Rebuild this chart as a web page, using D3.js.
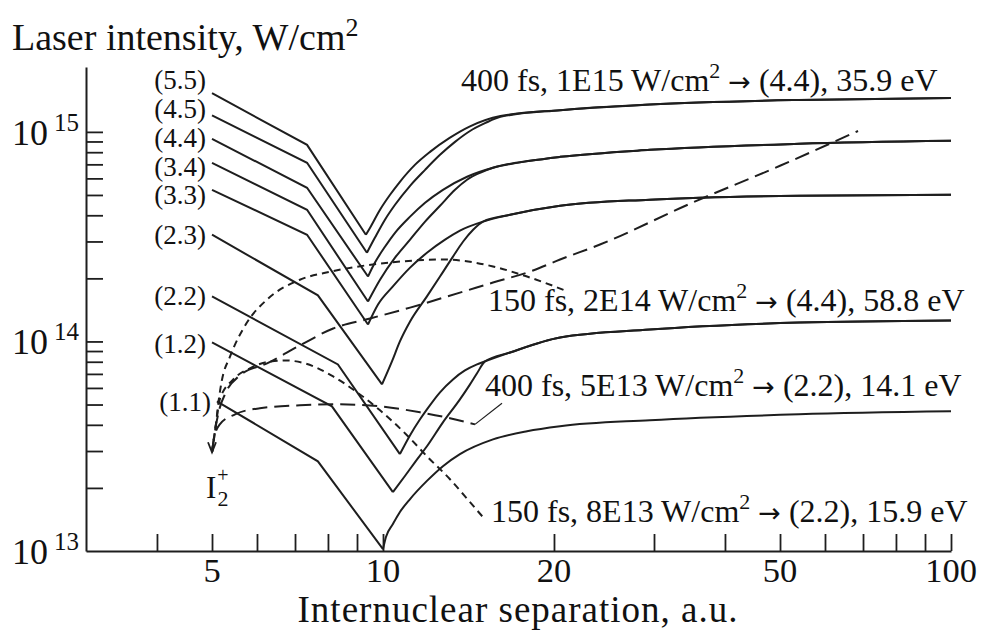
<!DOCTYPE html>
<html>
<head>
<meta charset="utf-8">
<script src="https://cdn.jsdelivr.net/npm/d3@7"></script>
<style>
  body { margin: 0; background: #fff; }
  svg text { font-family: "Liberation Serif", "Times New Roman", Times, Tinos, "DejaVu Serif", serif; fill: #111; }
  svg text .arrow { font-family: "DejaVu Sans", sans-serif; }
</style>
</head>
<body>
<svg id="chart" width="984" height="631"></svg>
<script>
// ---- data -------------------------------------------------------------
// final charge states (n.m), one solid curve each
const stateLabels = ["(5.5)", "(4.5)", "(4.4)", "(3.4)", "(3.3)", "(2.3)", "(2.2)", "(1.2)", "(1.1)"];

// falling part: start, kink, minimum  (separation in a.u., intensity in W/cm2)
const fallX = [
  [5.0, 7.35, 9.33], [5.0, 7.35, 9.37], [5.0, 7.35, 9.41], [5.0, 7.35, 9.41], [5.0, 7.35, 9.41],
  [5.0, 7.68, 9.96], [5.0, 8.33, 10.71], [5.0, 8.13, 10.41], [5.1, 7.68, 10.0]
];
const fallI = [
  [1.53e15, 8.67e14, 3.23e14], [1.2e15, 7.12e14, 2.65e14], [9.26e14, 5.41e14, 2.04e14],
  [7.12e14, 4.25e14, 1.55e14], [5.29e14, 3.23e14, 1.205e14], [3.23e14, 1.66e14, 6.24e13],
  [1.64e14, 7.77e13, 2.9e13], [9.9e13, 4.9e13, 1.91e13], [5.18e13, 2.68e13, 1.02e13]
];

// rising part, from the minimum out to 100 a.u.
const riseX = [
  [9.33, 9.49, 9.88, 10.29, 10.71, 11.38, 12.1, 13.1, 14.2, 16.1, 20.5, 29.5, 54, 100],
  [9.37, 9.68, 10.08, 10.5, 11.16, 11.86, 12.6, 13.39, 14.23, 15.12, 16.1, 20.5, 29.5, 54, 100],
  [9.41, 9.68, 10.08, 10.5, 11.16, 11.86, 12.75, 14.06, 15.62, 18.15, 20.5, 29.5, 54, 100],
  [9.41, 9.88, 10.5, 11.16, 11.86, 12.6, 13.39, 14.06, 14.82, 15.62, 18.15, 20.5, 29.5, 54, 100],
  [9.41, 9.8, 10.41, 11.16, 11.95, 12.86, 13.66, 15.0, 16.74, 20.5, 29.5, 54, 100],
  [9.96, 10.37, 10.71, 11.16, 11.95, 12.6, 13.28, 13.83, 14.41, 15.0, 16.74, 20.5, 29.5, 54, 100],
  [10.71, 11.16, 11.62, 11.95, 12.6, 13.28, 13.94, 14.64, 15.12, 16.74, 20.5, 29.5, 54, 100],
  [10.41, 10.93, 11.38, 11.95, 12.75, 13.66, 14.23, 14.64, 15.12, 16.74, 20.5, 29.5, 54, 100],
  [10.0, 10.12, 10.41, 10.71, 11.16, 11.95, 12.75, 13.66, 15.62, 17.93, 20.5, 29.5, 54, 100]
];
const riseI = [
  [3.23e14, 3.49e14, 4.25e14, 5.01e14, 5.78e14, 6.96e14, 8.03e14, 9.36e14, 1.06e15, 1.19e15, 1.27e15, 1.35e15, 1.42e15, 1.45e15],
  [2.65e14, 3.13e14, 3.81e14, 4.49e14, 5.53e14, 6.59e14, 7.77e14, 8.96e14, 1.01e15, 1.1e15, 1.18e15, 1.27e15, 1.35e15, 1.42e15, 1.45e15],
  [2.04e14, 2.38e14, 2.83e14, 3.3e14, 3.94e14, 4.59e14, 5.29e14, 6.11e14, 6.74e14, 7.28e14, 7.6e14, 8.21e14, 8.77e14, 9.06e14],
  [1.55e14, 1.97e14, 2.51e14, 3.06e14, 3.73e14, 4.44e14, 5.29e14, 5.91e14, 6.38e14, 6.74e14, 7.28e14, 7.6e14, 8.21e14, 8.77e14, 9.06e14],
  [1.205e14, 1.5e14, 1.83e14, 2.25e14, 2.65e14, 3.06e14, 3.38e14, 3.73e14, 4.02e14, 4.44e14, 4.75e14, 4.96e14, 5.01e14],
  [6.24e13, 8.03e13, 1.0e14, 1.245e14, 1.64e14, 2.04e14, 2.54e14, 2.99e14, 3.41e14, 3.73e14, 4.02e14, 4.44e14, 4.75e14, 4.96e14, 5.01e14],
  [2.9e13, 3.57e13, 4.25e13, 4.74e13, 5.72e13, 6.59e13, 7.27e13, 7.77e13, 8.03e13, 8.86e13, 1.045e14, 1.14e14, 1.23e14, 1.26e14],
  [1.91e13, 2.28e13, 2.65e13, 3.16e13, 4.11e13, 5.29e13, 6.24e13, 7.05e13, 8.03e13, 8.86e13, 1.045e14, 1.14e14, 1.23e14, 1.26e14],
  [1.02e13, 1.166e13, 1.345e13, 1.535e13, 1.77e13, 2.16e13, 2.54e13, 2.9e13, 3.41e13, 3.73e13, 3.94e13, 4.21e13, 4.49e13, 4.64e13]
];

// pulse trajectories starting from I2+ (dashed)
const pulseNames = ["400 fs, 1E15", "150 fs, 2E14", "400 fs, 5E13", "150 fs, 8E13"];
const pulseResults = ["(4.4), 35.9 eV", "(4.4), 58.8 eV", "(2.2), 14.1 eV", "(2.2), 15.9 eV"];
const pulseX = [
  [5.0, 5.05, 5.14, 5.29, 5.6, 6.25, 7.14, 8.17, 9.49, 11.16, 13.66, 15.62, 18.37, 20.5, 24.1, 34.7, 50.0, 68.6],
  [5.0, 5.08, 5.14, 5.2, 5.38, 5.76, 6.25, 7.14, 8.07, 10.29, 12.75, 15.62, 17.93, 21.17],
  [5.0, 5.05, 5.16, 5.49, 6.07, 7.14, 8.4, 9.88, 11.62, 13.12, 14.52],
  [5.0, 5.08, 5.16, 5.45, 5.83, 6.2, 6.72, 7.29, 8.17, 9.0, 9.88, 11.02, 11.95, 13.12, 14.23, 15.0]
];
const pulseI = [
  [2.96e13, 3.61e13, 4.64e13, 5.72e13, 6.89e13, 7.86e13, 9.57e13, 1.153e14, 1.287e14, 1.45e14, 1.71e14, 1.91e14, 2.18e14, 2.46e14, 2.9e14, 4.54e14, 6.89e14, 1.01e15],
  [2.96e13, 4.02e13, 5.29e13, 6.45e13, 8.48e13, 1.23e14, 1.585e14, 1.97e14, 2.15e14, 2.38e14, 2.46e14, 2.28e14, 2.04e14, 1.73e14],
  [2.96e13, 3.53e13, 4.02e13, 4.49e13, 4.8e13, 4.96e13, 5.01e13, 4.9e13, 4.59e13, 4.3e13, 4.02e13],
  [2.96e13, 4.02e13, 5.29e13, 6.59e13, 7.44e13, 7.94e13, 8.12e13, 7.86e13, 6.81e13, 5.72e13, 4.69e13, 3.57e13, 2.83e13, 2.2e13, 1.71e13, 1.45e13]
];
// leader from the end of the 400 fs / 5E13 trajectory to its label
const leaderX = [14.52, 16.2];
const leaderI = [4.02e13, 5.07e13];

const xTickLabels = [5, 10, 20, 50, 100];
const yDecades = [13, 14, 15];

// ---- layout -----------------------------------------------------------
const svg = d3.select("#chart");
const x = d3.scaleLog().domain([3, 100]).range([86, 951]);
const y = d3.scaleLog().domain([1e13, 2.04e15]).range([551, 67]);

const ink = "#1e1e1e";
const labelShift = [-13, -6, -1, 4, 5, 0, 0, 2, 1]; // nudge state labels so they don't collide
const pulseDash = ["15,7", "7,5", "15,7", "7,5"];
const noteX = [461, 488, 485, 491];
const noteY = [91, 311, 396, 522];

// axes
const xAxis = d3.axisBottom(x)
  .tickValues(x.ticks().filter(v => v > 3))
  .tickSizeInner(-17).tickSizeOuter(0)
  .tickFormat("");
const xg = svg.append("g").attr("transform", "translate(0," + y(1e13) + ")").call(xAxis);

const yAxis = d3.axisLeft(y)
  .tickValues(y.ticks().filter(v => v > 1e13 && v <= 1.01e15))
  .tickSizeInner(-17).tickSizeOuter(0)
  .tickFormat("");
const yg = svg.append("g").attr("transform", "translate(" + x(3) + ",0)").call(yAxis);

[xg, yg].forEach(g => {
  g.select(".domain").attr("stroke", ink).attr("stroke-width", 2);
  g.selectAll(".tick line").attr("stroke", ink).attr("stroke-width", 1.8);
});

svg.selectAll(".xlab")
  .data(xTickLabels)
  .enter().append("text")
  .attr("x", d => x(d))
  .attr("y", 582)
  .attr("text-anchor", "middle")
  .attr("font-size", 34.5)
  .text(d => d);

const ylab = svg.selectAll(".ylab")
  .data(yDecades)
  .enter().append("text")
  .attr("x", 12)
  .attr("y", d => y(Math.pow(10, d)) + 13)
  .attr("font-size", 36);
ylab.append("tspan").text("10");
ylab.append("tspan").attr("dx", 6).attr("dy", -14).attr("font-size", 25).text(d => d);

// axis titles
const yt = svg.append("text").attr("x", 12).attr("y", 50).attr("font-size", 38);
yt.append("tspan").text("Laser intensity, W/cm");
yt.append("tspan").attr("dy", -14).attr("font-size", 26).text("2");

svg.append("text")
  .attr("x", 518).attr("y", 622)
  .attr("text-anchor", "middle")
  .attr("font-size", 37)
  .attr("letter-spacing", 1)
  .text("Internuclear separation, a.u.");

// solid state curves
const lineLin = d3.line().x(d => x(d[0])).y(d => y(d[1]));
const lineSmooth = d3.line().x(d => x(d[0])).y(d => y(d[1])).curve(d3.curveMonotoneX);

stateLabels.forEach((lab, i) => {
  const fall = fallX[i].map((v, j) => [v, fallI[i][j]]);
  const rise = riseX[i].map((v, j) => [v, riseI[i][j]]);
  svg.append("path").attr("d", lineLin(fall))
    .attr("fill", "none").attr("stroke", ink).attr("stroke-width", 2).attr("stroke-linejoin", "miter");
  svg.append("path").attr("d", lineSmooth(rise))
    .attr("fill", "none").attr("stroke", ink).attr("stroke-width", 2);
  svg.append("text")
    .attr("x", x(fallX[i][0]) - 6)
    .attr("y", y(fallI[i][0]) + labelShift[i] + 9)
    .attr("text-anchor", "end")
    .attr("font-size", 27)
    .text(lab);
});

// dashed pulse trajectories
pulseNames.forEach((name, i) => {
  const pts = pulseX[i].map((v, j) => [v, pulseI[i][j]]);
  svg.append("path").attr("d", lineSmooth(pts))
    .attr("fill", "none").attr("stroke", ink).attr("stroke-width", 2)
    .attr("stroke-dasharray", pulseDash[i]);

  const t = svg.append("text").attr("x", noteX[i]).attr("y", noteY[i]).attr("font-size", 32);
  t.append("tspan").text(name + " W/cm");
  t.append("tspan").attr("dy", -13).attr("font-size", 22).text("2");
  t.append("tspan").attr("dy", 13).text(" ");
  t.append("tspan").attr("class", "arrow").attr("font-size", 27).text("\u2192");
  t.append("tspan").text(" " + pulseResults[i]);
});

svg.append("path")
  .attr("d", lineLin(leaderX.map((v, j) => [v, leaderI[j]])))
  .attr("fill", "none").attr("stroke", ink).attr("stroke-width", 1.2);

// arrow and I2+ label at the starting point
const sx = x(pulseX[0][0]), sy = y(pulseI[0][0]);
svg.append("path")
  .attr("d", `M${sx - 4},${sy - 10} L${sx},${sy} L${sx + 4},${sy - 10}`)
  .attr("fill", "none").attr("stroke", ink).attr("stroke-width", 1.8);

const ion = svg.append("text").attr("x", sx - 6).attr("y", sy + 46).attr("font-size", 31);
ion.append("tspan").text("I");
ion.append("tspan").attr("dy", -16).attr("dx", 1).attr("font-size", 20).text("+");
ion.append("tspan").attr("dy", 24).attr("dx", -11).attr("font-size", 22).text("2");
</script>
</body>
</html>
